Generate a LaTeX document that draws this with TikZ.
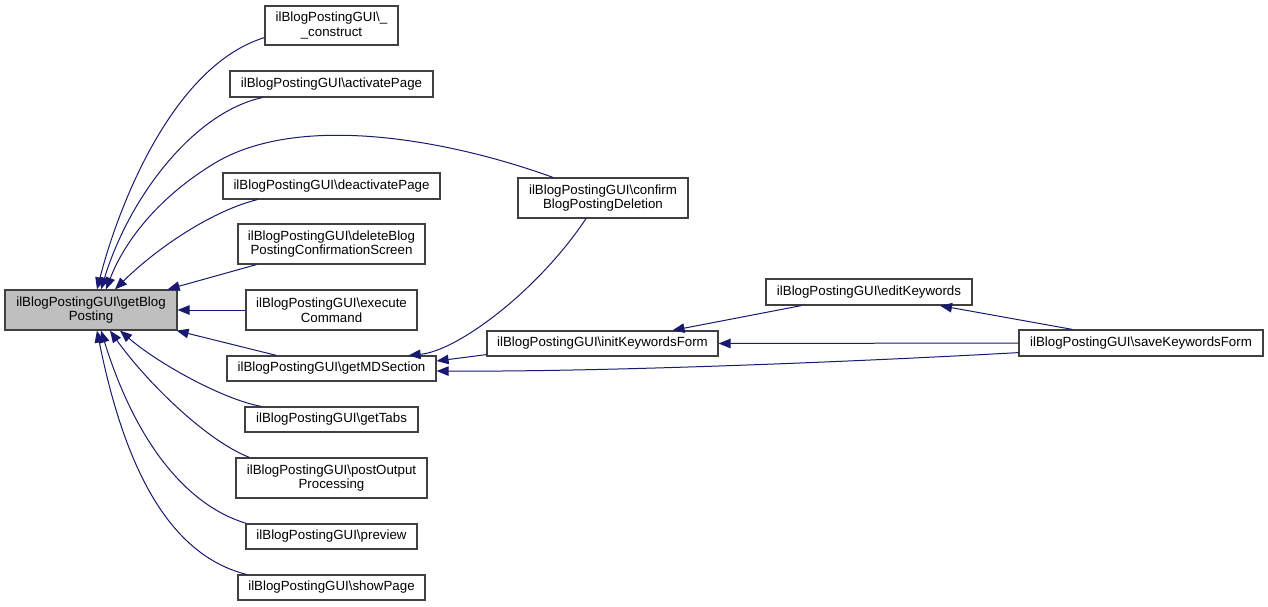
\documentclass[tikz,border=0pt]{standalone}
\usepackage{fontspec}
\setmainfont{Liberation Sans}
\usetikzlibrary{arrows.meta}
\definecolor{edgeblue}{HTML}{191970}
\definecolor{boxline}{HTML}{404040}
\definecolor{mainfill}{HTML}{BFBFBF}
\begin{document}
\begin{tikzpicture}[x=1pt,y=-1pt,
  box/.style={draw=boxline, line width=1.2pt, fill=white, align=center, inner sep=0pt,
    font=\fontsize{13.3}{14.5}\selectfont},
  edge/.style={draw=edgeblue, line width=1pt, -{Triangle[length=12pt,width=9.5pt]}}]
\useasboundingbox[fill=white] (0,0) rectangle (1268,606);
% nodes
\node[box, fill=mainfill, minimum width=172pt, minimum height=40pt] (main) at (91,310) {ilBlogPostingGUI\textbackslash getBlog\\Posting};
\node[box, minimum width=133pt, minimum height=39pt] (construct) at (331.5,25.5) {ilBlogPostingGUI\textbackslash\_\\\_construct};
\node[box, minimum width=203pt, minimum height=26pt] (activate) at (331.5,84) {ilBlogPostingGUI\textbackslash activatePage};
\node[box, minimum width=217pt, minimum height=26pt] (deactivate) at (331.5,186) {ilBlogPostingGUI\textbackslash deactivatePage};
\node[box, minimum width=187pt, minimum height=40pt] (delete) at (331.5,244) {ilBlogPostingGUI\textbackslash deleteBlog\\PostingConfirmationScreen};
\node[box, minimum width=171pt, minimum height=40pt] (execute) at (331.5,310) {ilBlogPostingGUI\textbackslash execute\\Command};
\node[box, minimum width=209pt, minimum height=25pt] (mdsection) at (331.5,368.5) {ilBlogPostingGUI\textbackslash getMDSection};
\node[box, minimum width=173pt, minimum height=25pt] (tabs) at (331.5,419.5) {ilBlogPostingGUI\textbackslash getTabs};
\node[box, minimum width=191pt, minimum height=40pt] (post) at (331.5,478) {ilBlogPostingGUI\textbackslash postOutput\\Processing};
\node[box, minimum width=171pt, minimum height=25pt] (preview) at (331.5,536.5) {ilBlogPostingGUI\textbackslash preview};
\node[box, minimum width=187pt, minimum height=25pt] (showpage) at (331.5,587.5) {ilBlogPostingGUI\textbackslash showPage};
\node[box, minimum width=170pt, minimum height=40pt] (confirm) at (603,198) {ilBlogPostingGUI\textbackslash confirm\\BlogPostingDeletion};
\node[box, minimum width=231pt, minimum height=25pt] (init) at (602.5,343.5) {ilBlogPostingGUI\textbackslash initKeywordsForm};
\node[box, minimum width=206pt, minimum height=26pt] (edit) at (869,292) {ilBlogPostingGUI\textbackslash editKeywords};
\node[box, minimum width=244pt, minimum height=26pt] (save) at (1141,343) {ilBlogPostingGUI\textbackslash saveKeywordsForm};
% edges into main
\draw[edge] ([yshift=8pt]construct.south west) .. controls (175,65) and (120,200) .. ([xshift=6pt]main.north);
\draw[edge] ([xshift=33pt]activate.south west) .. controls (195,112) and (130,195) .. ([xshift=10pt]main.north);
\draw[edge] ([xshift=-50pt]confirm.north) .. controls (450,140) and (300,112) .. (215,163) .. controls (160,196) and (125,240) .. ([xshift=15pt]main.north);
\draw[edge] ([xshift=35pt]deactivate.south west) .. controls (215,210) and (160,245) .. ([xshift=24pt]main.north);
\draw[edge] ([xshift=19pt]delete.south west) -- ([xshift=-10pt]main.north east);
\draw[edge] (execute.west) -- (main.east);
\draw[edge] ([xshift=50pt]mdsection.north west) -- ([xshift=-1pt]main.south east);
\draw[edge] ([xshift=17pt]tabs.north west) .. controls (225,400) and (160,365) .. ([xshift=29pt]main.south);
\draw[edge] ([xshift=14pt]post.north west) .. controls (205,440) and (145,380) .. ([xshift=19pt]main.south);
\draw[edge] ([xshift=1pt]preview.north west) .. controls (185,505) and (135,440) .. ([xshift=10pt]main.south);
\draw[edge] ([xshift=9pt]showpage.north west) .. controls (170,555) and (125,470) .. ([xshift=6pt]main.south);
% right part
\draw[edge] ([xshift=-17pt]confirm.south) .. controls (537,292) and (457,351) .. ([xshift=-28pt]mdsection.north east);
\draw[edge] ([yshift=2pt]init.south west) -- ([yshift=7.5pt]mdsection.east);
\draw[edge] ([yshift=4pt]save.south west) .. controls (850,362) and (600,372) .. ([yshift=-2.5pt]mdsection.east);
\draw[edge] ([xshift=36pt]edit.south west) -- ([xshift=70pt]init.north);
\draw[edge] (save.west) -- (init.east);
\draw[edge] ([xshift=54pt]save.north west) -- ([xshift=71pt]edit.south);
\end{tikzpicture}
\end{document}
